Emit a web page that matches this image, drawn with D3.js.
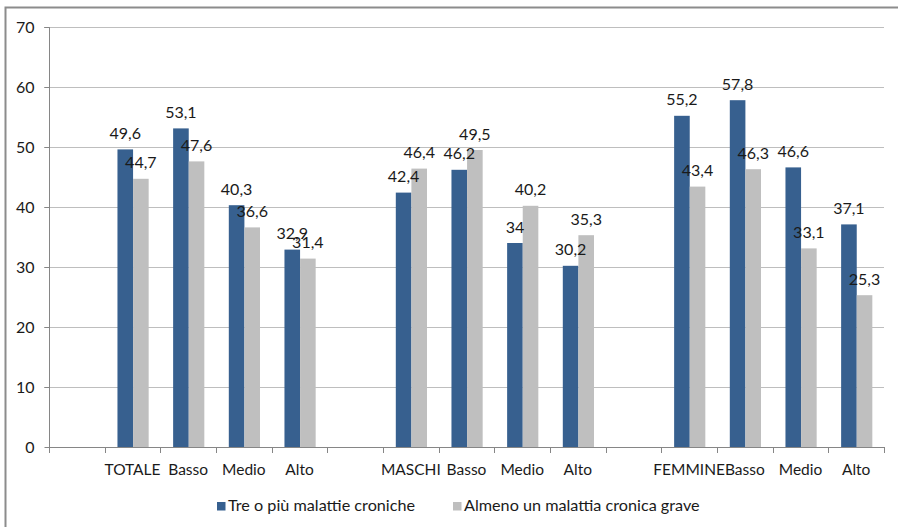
<!DOCTYPE html>
<html>
<head>
<meta charset="utf-8">
<script src="https://cdn.jsdelivr.net/npm/d3@7"></script>
<style>
  html, body { margin: 0; padding: 0; background: #fff; }
  svg { display: block; font-family: Lato, "Open Sans", sans-serif; }
</style>
</head>
<body>
<svg id="chart" width="898" height="527"></svg>
<script>
// Category slots along the x axis (empty strings are spacer slots between groups)
const categories = ["", "TOTALE", "Basso", "Medio", "Alto",
                    "", "MASCHI", "Basso", "Medio", "Alto",
                    "", "FEMMINE", "Basso", "Medio", "Alto"];

const seriesNames = ["Tre o più malattie croniche", "Almeno un malattia cronica grave"];

// Values per slot (null for spacer slots)
const treOPiu   = [null, 49.6, 53.1, 40.3, 32.9, null, 42.4, 46.2, 34.0, 30.2, null, 55.2, 57.8, 46.6, 37.1];
const almenoUna = [null, 44.7, 47.6, 36.6, 31.4, null, 46.4, 49.5, 40.2, 35.3, null, 43.4, 46.3, 33.1, 25.3];

const yTicks = [0, 10, 20, 30, 40, 50, 60, 70];

const colors = ["#37608F", "#BFBFBF"];

const svg = d3.select("#chart");

// Outer chart frame
svg.append("rect")
  .attr("x", 5.5).attr("y", 7.5)
  .attr("width", 900).attr("height", 540)
  .attr("fill", "none")
  .attr("stroke", "#8C8C8C")
  .attr("stroke-width", 2);

const plot = { left: 49, right: 884, top: 27, bottom: 447 };

const x0 = d3.scaleBand()
  .domain(d3.range(categories.length))
  .range([plot.left, plot.right])
  .padding(0);

const x1 = d3.scaleBand()
  .domain([0, 1])
  .range([12.8, 44]);

const y = d3.scaleLinear()
  .domain([0, 70])
  .range([plot.bottom, plot.top]);

// Horizontal gridlines
svg.append("g")
  .selectAll("line")
  .data(yTicks.filter(d => d > 0))
  .join("line")
  .attr("x1", plot.left - 5).attr("x2", plot.right)
  .attr("y1", d => Math.round(y(d)) + 0.5)
  .attr("y2", d => Math.round(y(d)) + 0.5)
  .attr("stroke", "#BEBEBE")
  .attr("stroke-width", 1.2);

// Y axis
const yAxis = svg.append("g")
  .attr("transform", `translate(${plot.left + 0.5},0)`)
  .call(d3.axisLeft(y).tickValues(yTicks).tickSize(5).tickPadding(10).tickFormat(d3.format("d")));
yAxis.select(".domain").attr("stroke", "#868686").attr("d", `M-5,${plot.top + 0.5}H0V${plot.bottom + 6}`);
yAxis.selectAll(".tick line").attr("stroke", "#868686");
yAxis.selectAll(".tick text")
  .attr("fill", "#1a1a1a")
  .style("font-size", "16px")
  .style("font-family", "Lato, sans-serif");

// Bars
const rows = categories.map((c, i) => ({ i, values: [treOPiu[i], almenoUna[i]] }));

const groups = svg.append("g")
  .selectAll("g")
  .data(rows.filter(r => r.values[0] !== null))
  .join("g")
  .attr("transform", r => `translate(${x0(r.i)},0)`);

groups.selectAll("rect")
  .data(r => r.values.map((v, k) => ({ v, k })))
  .join("rect")
  .attr("x", d => x1(d.k))
  .attr("width", x1.bandwidth())
  .attr("y", d => y(d.v))
  .attr("height", d => y(0) - y(d.v))
  .attr("fill", d => colors[d.k]);

// Value labels above each bar
const fmt = v => String(v).replace(".", ",");
groups.selectAll("text")
  .data(r => r.values.map((v, k) => ({ v, k })))
  .join("text")
  .attr("x", d => x1(d.k) + x1.bandwidth() / 2)
  .attr("y", d => y(d.v) - 10.5)
  .attr("text-anchor", "middle")
  .attr("fill", "#1a1a1a")
  .style("font-size", "16px")
  .text(d => fmt(d.v));

// X axis: baseline with tick marks at slot boundaries
const xAxis = svg.append("g");
xAxis.append("line")
  .attr("x1", plot.left).attr("x2", plot.right + 0.5)
  .attr("y1", plot.bottom + 0.5).attr("y2", plot.bottom + 0.5)
  .attr("stroke", "#868686");
const bounds = d3.range(categories.length + 1).map(i => plot.left + i * x0.step());
xAxis.selectAll("line.tick")
  .data(bounds.slice(1))
  .join("line")
  .attr("class", "tick")
  .attr("x1", d => Math.round(d) + 0.5).attr("x2", d => Math.round(d) + 0.5)
  .attr("y1", plot.bottom).attr("y2", plot.bottom + 6)
  .attr("stroke", "#868686");
xAxis.selectAll("text")
  .data(categories.map((c, i) => ({ c, i })).filter(d => d.c !== ""))
  .join("text")
  .attr("x", d => x0(d.i) + x0.bandwidth() / 2)
  .attr("y", 475)
  .attr("text-anchor", "middle")
  .attr("fill", "#1a1a1a")
  .style("font-size", "15.5px")
  .text(d => d.c);

// Legend
const legendItems = [
  { name: seriesNames[0], color: colors[0], x: 217 },
  { name: seriesNames[1], color: colors[1], x: 453 }
];
const legend = svg.append("g")
  .selectAll("g")
  .data(legendItems)
  .join("g")
  .attr("transform", d => `translate(${d.x},0)`);
legend.append("rect")
  .attr("x", 0).attr("y", 502)
  .attr("width", 8.5).attr("height", 8.5)
  .attr("fill", d => d.color);
legend.append("text")
  .attr("x", 11).attr("y", 511)
  .attr("fill", "#1a1a1a")
  .style("font-size", "16.2px")
  .text(d => d.name);
</script>
</body>
</html>
